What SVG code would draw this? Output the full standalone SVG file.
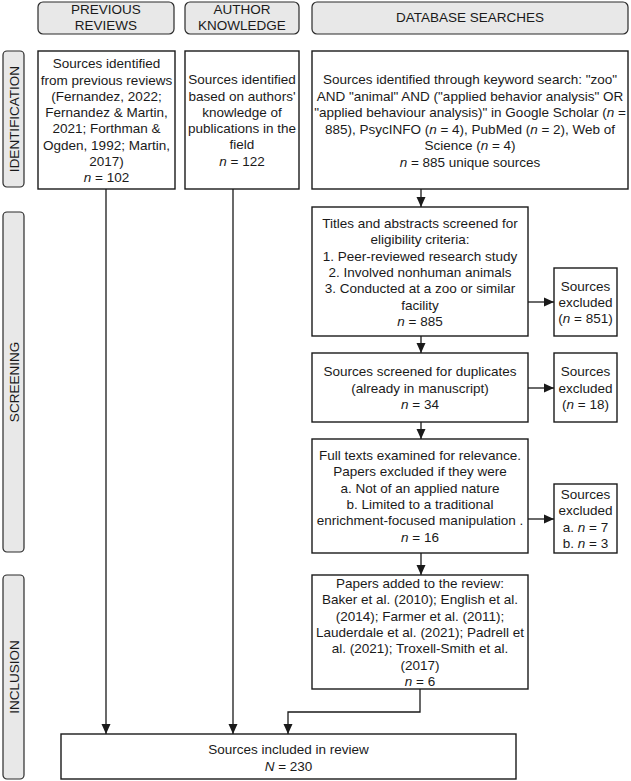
<svg xmlns="http://www.w3.org/2000/svg" width="631" height="781" viewBox="0 0 631 781">
<style>
text{font-family:"Liberation Sans",Arial,sans-serif;font-size:13.5px;fill:#1a1a1a;text-anchor:middle}
.hdr{fill:#e8e8e8;stroke:#2a2a2a;stroke-width:1.2}
.box{fill:#fff;stroke:#1a1a1a;stroke-width:1.4}
.con{fill:none;stroke:#1a1a1a;stroke-width:1.3}
.i{font-style:italic}
</style>
<defs>
<marker id="ah" markerUnits="userSpaceOnUse" markerWidth="10" markerHeight="10" viewBox="0 0 10 10" refX="10" refY="5" orient="auto">
<path d="M0,0.5 L10,5 L0,9.5 z" fill="#1a1a1a"/>
</marker>
</defs>

<g id="hdr-previous"><rect class="hdr" x="38" y="2" width="136" height="32" rx="5"/>
<text x="106" y="14">PREVIOUS</text><text x="106" y="30">REVIEWS</text></g>
<g id="hdr-author"><rect class="hdr" x="185" y="2" width="114" height="32" rx="5"/>
<text x="242" y="14">AUTHOR</text><text x="242" y="30">KNOWLEDGE</text></g>
<g id="hdr-database"><rect class="hdr" x="312" y="2" width="316" height="32" rx="5"/>
<text x="470" y="22">DATABASE SEARCHES</text></g>

<g id="side-identification"><rect class="hdr" x="3" y="51" width="21" height="136" rx="4"/>
<text transform="translate(18.5,119) rotate(-90)">IDENTIFICATION</text></g>
<g id="side-screening"><rect class="hdr" x="3" y="212" width="21" height="340" rx="4"/>
<text transform="translate(18.5,382) rotate(-90)">SCREENING</text></g>
<g id="side-inclusion"><rect class="hdr" x="3" y="575" width="21" height="204" rx="4"/>
<text transform="translate(18.5,677) rotate(-90)">INCLUSION</text></g>

<g id="previous"><rect class="box" x="38" y="51" width="137" height="138"/>
<text x="106.5" y="68">Sources identified</text>
<text x="106.5" y="84.5">from previous reviews</text>
<text x="106.5" y="101">(Fernandez, 2022;</text>
<text x="106.5" y="117">Fernandez &amp; Martin,</text>
<text x="106.5" y="133">2021; Forthman &amp;</text>
<text x="106.5" y="149.5">Ogden, 1992; Martin,</text>
<text x="106.5" y="166">2017)</text>
<text x="106.5" y="182"><tspan class="i">n</tspan> = 102</text></g>

<g id="author"><rect class="box" x="185" y="51" width="114" height="138"/>
<text x="242" y="84">Sources identified</text>
<text x="242" y="101">based on authors'</text>
<text x="242" y="117">knowledge of</text>
<text x="242" y="133">publications in the</text>
<text x="242" y="149">field</text>
<text x="242" y="166"><tspan class="i">n</tspan> = 122</text></g>

<g id="database"><rect class="box" x="312" y="51" width="316" height="138"/>
<text x="470" y="84">Sources identified through keyword search: "zoo"</text>
<text x="470" y="101">AND "animal" AND ("applied behavior analysis" OR</text>
<text x="470" y="117">"applied behaviour analysis)" in Google Scholar (<tspan class="i">n</tspan> =</text>
<text x="470" y="134">885), PsycINFO (<tspan class="i">n</tspan> = 4), PubMed (<tspan class="i">n</tspan> = 2), Web of</text>
<text x="470" y="150">Science (<tspan class="i">n</tspan> = 4)</text>
<text x="470" y="167"><tspan class="i">n</tspan> = 885 unique sources</text></g>

<g id="titles"><rect class="box" x="312" y="207" width="216" height="129"/>
<text x="420" y="228">Titles and abstracts screened for</text>
<text x="420" y="244">eligibility criteria:</text>
<text x="420" y="261">1. Peer-reviewed research study</text>
<text x="420" y="277">2. Involved nonhuman animals</text>
<text x="420" y="293">3. Conducted at a zoo or similar</text>
<text x="420" y="310">facility</text>
<text x="420" y="326"><tspan class="i">n</tspan> = 885</text></g>

<g id="excluded1"><rect class="box" x="554" y="268" width="63" height="68"/>
<text x="585.5" y="291">Sources</text>
<text x="585.5" y="307">excluded</text>
<text x="585.5" y="323">(<tspan class="i">n</tspan> = 851)</text></g>

<g id="duplicates"><rect class="box" x="312" y="353" width="216" height="69"/>
<text x="420" y="376">Sources screened for duplicates</text>
<text x="420" y="392.5">(already in manuscript)</text>
<text x="420" y="409"><tspan class="i">n</tspan> = 34</text></g>

<g id="excluded2"><rect class="box" x="554" y="353" width="63" height="69"/>
<text x="585.5" y="376">Sources</text>
<text x="585.5" y="392.5">excluded</text>
<text x="585.5" y="409">(<tspan class="i">n</tspan> = 18)</text></g>

<g id="fulltexts"><rect class="box" x="312" y="439" width="216" height="114"/>
<text x="420" y="460">Full texts examined for relevance.</text>
<text x="420" y="476">Papers excluded if they were</text>
<text x="420" y="493">a. Not of an applied nature</text>
<text x="420" y="509">b. Limited to a traditional</text>
<text x="420" y="525">enrichment-focused manipulation .</text>
<text x="420" y="542"><tspan class="i">n</tspan> = 16</text></g>

<g id="excluded3"><rect class="box" x="554" y="484" width="63" height="69"/>
<text x="585.5" y="499">Sources</text>
<text x="585.5" y="515">excluded</text>
<text x="585.5" y="532">a. <tspan class="i">n</tspan> = 7</text>
<text x="585.5" y="548">b. <tspan class="i">n</tspan> = 3</text></g>

<g id="papers"><rect class="box" x="312" y="575" width="216" height="114"/>
<text x="420" y="588">Papers added to the review:</text>
<text x="420" y="604">Baker et al. (2010); English et al.</text>
<text x="420" y="621">(2014); Farmer et al. (2011);</text>
<text x="420" y="637">Lauderdale et al. (2021); Padrell et</text>
<text x="420" y="653">al. (2021); Troxell-Smith et al.</text>
<text x="420" y="670">(2017)</text>
<text x="420" y="686"><tspan class="i">n</tspan> = 6</text></g>

<g id="included"><rect class="box" x="61" y="734" width="455" height="45"/>
<text x="288.5" y="754">Sources included in review</text>
<text x="288.5" y="771"><tspan class="i">N</tspan> = 230</text></g>

<g id="connectors">
<path class="con" d="M106,189 V734" marker-end="url(#ah)"/>
<path class="con" d="M233,189 V734" marker-end="url(#ah)"/>
<path class="con" d="M421,189 V207" marker-end="url(#ah)"/>
<path class="con" d="M421,336 V353" marker-end="url(#ah)"/>
<path class="con" d="M421,422 V439" marker-end="url(#ah)"/>
<path class="con" d="M421,553 V575" marker-end="url(#ah)"/>
<path class="con" d="M420,689 V712 H288 V734" marker-end="url(#ah)"/>
<path class="con" d="M528,302 H554" marker-end="url(#ah)"/>
<path class="con" d="M528,388 H554" marker-end="url(#ah)"/>
<path class="con" d="M528,519 H554" marker-end="url(#ah)"/>
</g>
</svg>
